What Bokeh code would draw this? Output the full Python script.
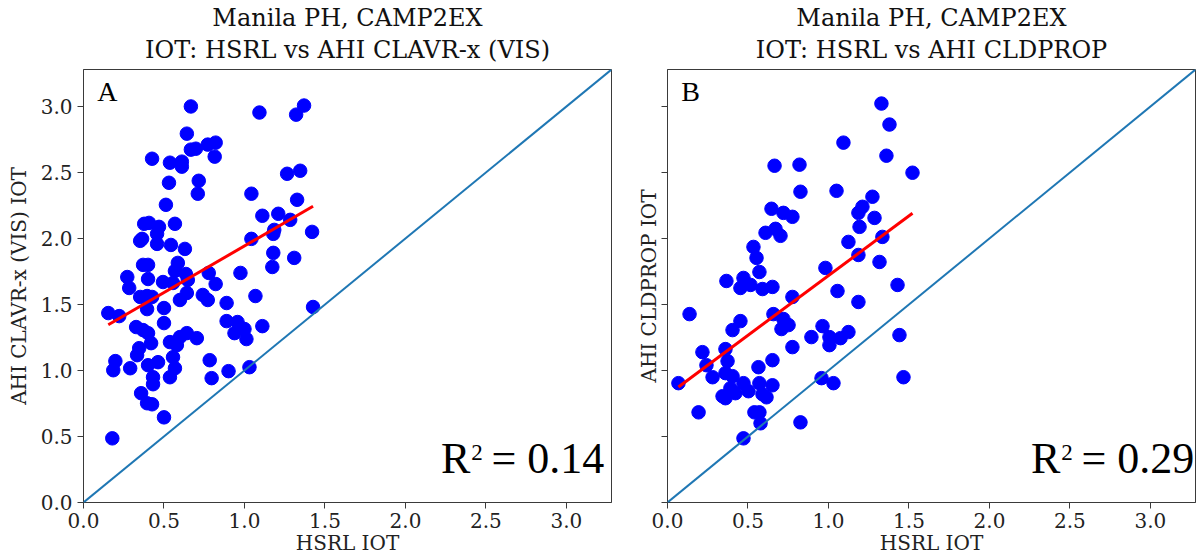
import numpy as np
from bokeh.plotting import figure
from bokeh.layouts import row
from bokeh.models import (Range1d, FixedTicker, NumeralTickFormatter, CustomJSTickFormatter,
                          Slope, Label, Title)
from bokeh.embed import file_html
from bokeh.resources import INLINE

# HSRL vs AHI CLAVR-x (VIS) ice optical thickness
hsrl_a = [0.667, 1.093, 1.370, 1.321, 0.642, 0.667, 0.698, 0.772, 0.821, 0.815,
          0.426, 0.537, 0.611, 0.611, 0.531, 0.716, 0.710, 1.265, 1.346, 1.043,
          0.512, 1.327, 1.111, 1.210, 1.284, 1.185, 1.179, 1.420, 0.407, 0.377,
          0.469, 0.457, 0.568, 0.364, 0.352, 0.457, 0.543, 0.630, 1.043, 1.179,
          1.173, 1.309, 0.370, 0.401, 0.586, 0.568, 0.975, 0.272, 0.284, 0.401,
          0.494, 0.556, 0.636, 0.648, 0.778, 0.821, 0.352, 0.395, 0.426, 0.599,
          0.642, 0.741, 0.772, 0.889, 1.068, 0.395, 0.500, 1.426, 0.154, 0.222,
          0.500, 0.327, 0.370, 0.401, 0.420, 0.346, 0.333, 0.537, 0.599, 0.642,
          0.704, 0.580, 0.889, 0.957, 1.000, 0.938, 1.012, 1.111, 0.556, 0.568,
          0.537, 0.198, 0.185, 0.290, 0.401, 0.463, 0.432, 0.432, 0.784, 0.796,
          0.901, 1.031, 0.358, 0.395, 0.426, 0.500, 0.179]
clavrx_a = [3.000, 2.954, 3.007, 2.938, 2.794, 2.673, 2.680, 2.711, 2.726, 2.620,
            2.604, 2.574, 2.582, 2.544, 2.422, 2.437, 2.339, 2.490, 2.513, 2.339,
            2.255, 2.293, 2.172, 2.187, 2.141, 2.065, 2.035, 2.050, 2.118, 2.111,
            2.088, 2.035, 2.111, 1.997, 1.982, 1.959, 1.951, 1.921, 1.997, 1.891,
            1.784, 1.853, 1.800, 1.800, 1.815, 1.754, 1.739, 1.708, 1.625, 1.693,
            1.670, 1.663, 1.731, 1.686, 1.739, 1.655, 1.557, 1.564, 1.557, 1.534,
            1.587, 1.572, 1.534, 1.511, 1.564, 1.465, 1.473, 1.481, 1.435, 1.412,
            1.359, 1.329, 1.306, 1.283, 1.207, 1.169, 1.116, 1.215, 1.253, 1.283,
            1.245, 1.192, 1.374, 1.367, 1.314, 1.283, 1.238, 1.336, 1.101, 1.017,
            0.949, 1.071, 1.002, 1.017, 1.040, 1.063, 0.949, 0.896, 1.078, 0.942,
            0.995, 1.025, 0.828, 0.752, 0.744, 0.645, 0.486]

# HSRL vs AHI CLDPROP ice optical thickness
hsrl_b = [1.329, 1.379, 1.093, 1.360, 1.522, 0.665, 0.820, 0.826, 1.050, 0.646,
          0.720, 0.776, 1.273, 1.211, 1.186, 1.286, 1.193, 0.609, 0.671, 0.702,
          1.335, 1.124, 0.534, 0.553, 1.186, 1.317, 0.981, 0.571, 0.366, 0.472,
          0.453, 0.516, 0.590, 0.652, 1.056, 1.429, 0.776, 1.186, 0.137, 0.658,
          0.720, 0.752, 0.708, 0.453, 0.404, 0.963, 1.124, 1.441, 0.894, 1.006,
          1.006, 1.075, 0.776, 0.217, 0.360, 0.373, 0.242, 0.280, 0.360, 0.404,
          0.068, 0.472, 0.571, 0.652, 0.391, 0.422, 0.503, 0.590, 0.615, 0.342,
          0.360, 0.565, 0.652, 0.957, 1.031, 1.466, 0.193, 0.540, 0.571, 0.578,
          0.826, 0.472]
cldprop_b = [3.022, 2.863, 2.726, 2.627, 2.498, 2.551, 2.559, 2.354, 2.361, 2.225,
             2.194, 2.164, 2.316, 2.240, 2.194, 2.156, 2.088, 2.043, 2.073, 2.020,
             2.012, 1.974, 1.936, 1.853, 1.875, 1.822, 1.777, 1.746, 1.678, 1.701,
             1.625, 1.648, 1.617, 1.633, 1.602, 1.648, 1.557, 1.519, 1.427, 1.427,
             1.390, 1.344, 1.314, 1.374, 1.306, 1.336, 1.291, 1.268, 1.253, 1.253,
             1.192, 1.245, 1.177, 1.139, 1.162, 1.071, 1.040, 0.949, 0.980, 0.957,
             0.904, 0.904, 0.904, 0.888, 0.866, 0.828, 0.843, 0.820, 0.797, 0.805,
             0.790, 1.025, 1.078, 0.942, 0.904, 0.949, 0.683, 0.683, 0.683, 0.600,
             0.607, 0.486]

tick_values = [0.0, 0.5, 1.0, 1.5, 2.0, 2.5, 3.0]
r2_a = "0.14"
r2_b = "0.29"

SERIF = "DejaVu Serif"
TIMES = "Liberation Serif"
AXIS_MAX = 3.28
FRAME = "#3a3a3a"


def add_r2(p, x, y, r2):
    # "R", raised "2", then "= value", all anchored to the right end
    p.add_layout(Label(x=x, y=y, text="= " + r2, text_font=TIMES, text_font_size="44px",
                       text_color="black", text_align="right"))
    p.add_layout(Label(x=x, y=y, x_offset=-134, text="R", text_font=TIMES,
                       text_font_size="44px", text_color="black", text_align="right"))
    p.add_layout(Label(x=x, y=y, x_offset=-133, y_offset=23, text="2", text_font=TIMES,
                       text_font_size="23px", text_color="black", text_align="left"))


def make_panel(xs, ys, ylabel, subtitle, letter, r2, r2_x, show_ylabels,
               border_left, border_right):
    p = figure(frame_width=528, frame_height=433,
               x_range=Range1d(0, AXIS_MAX), y_range=Range1d(0, AXIS_MAX),
               output_backend="svg", toolbar_location=None,
               min_border_left=border_left, min_border_right=border_right,
               min_border_top=69, min_border_bottom=56,
               background_fill_color="white", border_fill_color="white")
    p.grid.visible = False
    p.outline_line_color = FRAME
    p.outline_line_width = 1

    # two-line title, line nearest the frame added first
    p.add_layout(Title(text=subtitle, text_font=SERIF, text_font_size="24px",
                       text_font_style="normal", align="center", text_color="#111111",
                       text_line_height=1.0, standoff=12), "above")
    p.add_layout(Title(text="Manila PH, CAMP2EX", text_font=SERIF, text_font_size="24px",
                       text_font_style="normal", align="center", text_color="#111111",
                       text_line_height=1.0, standoff=-9), "above")

    for ax in (p.xaxis[0], p.yaxis[0]):
        ax.ticker = FixedTicker(ticks=tick_values)
        ax.formatter = NumeralTickFormatter(format="0.0")
        ax.minor_tick_line_color = None
        ax.major_tick_out = 6
        ax.major_tick_in = 0
        ax.major_tick_line_color = FRAME
        ax.axis_line_color = FRAME
        ax.major_label_text_font = SERIF
        ax.major_label_text_font_size = "20px"
        ax.major_label_text_color = "#222222"
        ax.axis_label_text_font = SERIF
        ax.axis_label_text_font_size = "20px"
        ax.axis_label_text_font_style = "normal"
        ax.axis_label_text_color = "#222222"

    p.xaxis.axis_label = "HSRL IOT"
    p.xaxis.major_label_standoff = 4
    p.xaxis.axis_label_standoff = 0
    p.yaxis.axis_label = ylabel
    if show_ylabels:
        p.yaxis.axis_label_standoff = 7
    else:
        p.yaxis.formatter = CustomJSTickFormatter(code="return ''")
        p.yaxis.major_label_standoff = 0
        p.yaxis.axis_label_standoff = 1

    # 1:1 reference line
    p.add_layout(Slope(gradient=1, y_intercept=0, line_color="#1f77b4", line_width=2))

    p.scatter(xs, ys, size=13.5, fill_color="blue", line_color="blue")

    # least-squares fit across the sampled HSRL range
    xa = np.array(xs)
    ya = np.array(ys)
    slope, intercept = np.polyfit(xa, ya, 1)
    fx = np.array([xa.min(), xa.max()])
    p.line(fx, slope * fx + intercept, line_color="red", line_width=3)

    p.add_layout(Label(x=0.085, y=2.995, text=letter, text_font=TIMES,
                       text_font_size="28px", text_color="black"))
    add_r2(p, r2_x, 0.144, r2)
    return p


left = make_panel(hsrl_a, clavrx_a, "AHI CLAVR-x (VIS) IOT",
                  "IOT: HSRL vs AHI CLAVR-x (VIS)", "A", r2_a, 3.235, True, 83, 19)
right = make_panel(hsrl_b, cldprop_b, "AHI CLDPROP IOT",
                   "IOT: HSRL vs AHI CLDPROP", "B", r2_b, 3.273, False, 37, 9)

layout = row(left, right)
open("out.html", "w").write(file_html(layout, INLINE))
